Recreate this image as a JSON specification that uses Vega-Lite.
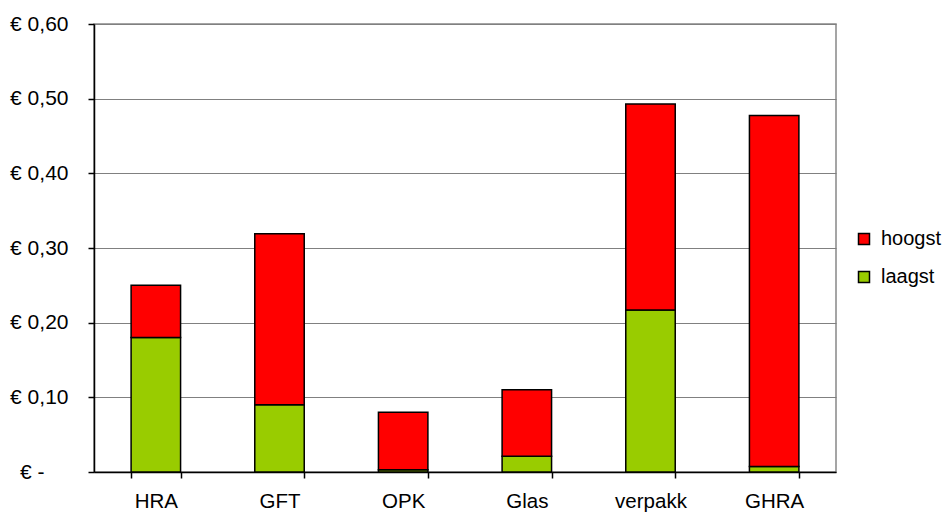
{
  "$schema": "https://vega.github.io/schema/vega-lite/v6.json",
  "width": 742,
  "height": 448,
  "autosize": {"type": "none"},
  "padding": {"left": 94, "top": 24, "right": 111, "bottom": 42},
  "background": "white",
  "config": {
    "font": "Liberation Sans",
    "view": {"stroke": "#888888", "strokeWidth": 1.5}
  },
  "data": {
    "values": [
      {"cat": "HRA", "serie": "laagst", "waarde": 0.18},
      {"cat": "HRA", "serie": "hoogst", "waarde": 0.07},
      {"cat": "GFT", "serie": "laagst", "waarde": 0.09},
      {"cat": "GFT", "serie": "hoogst", "waarde": 0.229},
      {"cat": "OPK", "serie": "laagst", "waarde": 0.003},
      {"cat": "OPK", "serie": "hoogst", "waarde": 0.077},
      {"cat": "Glas", "serie": "laagst", "waarde": 0.021},
      {"cat": "Glas", "serie": "hoogst", "waarde": 0.089},
      {"cat": "verpakk", "serie": "laagst", "waarde": 0.217},
      {"cat": "verpakk", "serie": "hoogst", "waarde": 0.276},
      {"cat": "GHRA", "serie": "laagst", "waarde": 0.0075},
      {"cat": "GHRA", "serie": "hoogst", "waarde": 0.47}
    ]
  },
  "mark": {"type": "bar", "stroke": "black", "strokeWidth": 1.5},
  "encoding": {
    "x": {
      "field": "cat",
      "type": "nominal",
      "sort": ["HRA", "GFT", "OPK", "Glas", "verpakk", "GHRA"],
      "scale": {"paddingInner": 0.6, "paddingOuter": 0.3},
      "axis": {
        "title": null,
        "labelAngle": 0,
        "labelFontSize": 20.5,
        "labelColor": "black",
        "labelPadding": 13,
        "tickBand": "extent",
        "tickSize": 6,
        "tickColor": "black",
        "tickWidth": 1.5,
        "domainColor": "black",
        "domainWidth": 1.5,
        "grid": false
      }
    },
    "y": {
      "field": "waarde",
      "type": "quantitative",
      "stack": "zero",
      "scale": {"domain": [0, 0.6], "nice": false},
      "axis": {
        "title": null,
        "values": [0, 0.1, 0.2, 0.3, 0.4, 0.5, 0.6],
        "labelExpr": "datum.value == 0 ? '€ -' : '€ ' + replace(format(datum.value, '.2f'), '.', ',')",
        "labelFontSize": 21,
        "labelColor": "black",
        "labelPadding": {"condition": {"test": "datum.value == 0", "value": 44}, "value": 20},
        "tickSize": 6,
        "tickColor": "black",
        "tickWidth": 1.5,
        "domainColor": "black",
        "domainWidth": 1.5,
        "grid": true,
        "gridColor": "#808080",
        "gridWidth": 1.2
      }
    },
    "color": {
      "field": "serie",
      "type": "nominal",
      "scale": {"domain": ["hoogst", "laagst"], "range": ["#FF0000", "#99CC00"]},
      "legend": {
        "title": null,
        "orient": "none",
        "legendX": 760,
        "legendY": 205,
        "symbolType": "square",
        "symbolSize": 121,
        "symbolStrokeColor": "black",
        "symbolStrokeWidth": 1.5,
        "symbolOpacity": 1,
        "labelFontSize": 20,
        "labelColor": "black",
        "labelOffset": 7,
        "rowPadding": 18
      }
    },
    "order": {"field": "serie", "sort": "descending"}
  }
}
